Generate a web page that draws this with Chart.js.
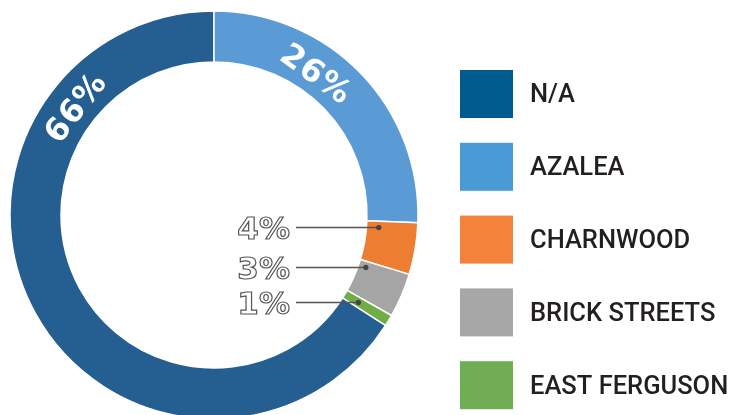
<!DOCTYPE html>
<html>
<head>
<meta charset="utf-8">
<script src="https://cdn.jsdelivr.net/npm/chart.js@4/dist/chart.umd.min.js"></script>
<style>
  body { margin: 0; background: #fff; }
  #wrap { width: 733px; height: 415px; overflow: hidden; }
</style>
</head>
<body>
<div id="wrap"><canvas id="myChart" width="733" height="415"></canvas></div>
<script>
'use strict';

// data
const categories = ['N/A', 'AZALEA', 'CHARNWOOD', 'BRICK STREETS', 'EAST FERGUSON'];
const shares = [65.9, 25.6, 4.1, 3.5, 0.9];
const shareLabels = ['66%', '26%', '4%', '3%', '1%'];

// ring colours and the (slightly different) legend swatch colours
const ringColors = ['#255E91', '#5B9BD5', '#ED7D31', '#A5A5A5', '#70AD47'];
const legendColors = ['#005B8F', '#4A9BD5', '#F5823A', '#A8A7A7', '#71AD52'];

const total = shares.reduce((a, b) => a + b, 0);

// where each label sits inside its slice: frac along the arc, rad across the ring
const labelSpots = [
  {kind: 'inside', frac: 0.78, rad: 0.42},
  {kind: 'inside', frac: 0.39, rad: 0.40},
  {kind: 'leader', frac: 0.15, rad: 0.24},
  {kind: 'leader', frac: 0.17, rad: 0.15},
  {kind: 'leader', frac: 0.52, rad: 0.31}
];

const sliceLabels = {
  id: 'sliceLabels',
  afterDatasetsDraw(chart) {
    const ctx = chart.ctx;
    const arcs = chart.getDatasetMeta(0).data;
    arcs.forEach((arc, i) => {
      const spot = labelSpots[i];
      const p = arc.getProps(['x', 'y', 'startAngle', 'endAngle', 'innerRadius', 'outerRadius'], true);
      const a = p.startAngle + spot.frac * (p.endAngle - p.startAngle);
      const r = p.innerRadius + spot.rad * (p.outerRadius - p.innerRadius);
      const px = p.x + r * Math.cos(a);
      const py = p.y + r * Math.sin(a);
      ctx.save();
      if (spot.kind === 'inside') {
        ctx.translate(px, py);
        ctx.rotate(a + Math.PI / 2);
        ctx.font = 'bold 32px "DejaVu Sans"';
        ctx.letterSpacing = '1px';
        ctx.fillStyle = '#fff';
        ctx.textAlign = 'center';
        ctx.textBaseline = 'middle';
        ctx.fillText(shareLabels[i], 0, 1);
      } else {
        ctx.strokeStyle = '#555';
        ctx.lineWidth = 1.5;
        ctx.beginPath();
        ctx.moveTo(p.x + 82, py);
        ctx.lineTo(px, py);
        ctx.stroke();
        ctx.fillStyle = '#444';
        ctx.beginPath();
        ctx.arc(px, py, 2.6, 0, Math.PI * 2);
        ctx.fill();
        ctx.font = 'bold 31px "DejaVu Sans"';
        ctx.textAlign = 'right';
        ctx.textBaseline = 'middle';
        ctx.fillStyle = '#fff';
        ctx.fillText(shareLabels[i], p.x + 76, py + 3);
        ctx.lineWidth = 1.2;
        ctx.strokeStyle = '#555';
        ctx.strokeText(shareLabels[i], p.x + 76, py + 3);
      }
      ctx.restore();
    });
  }
};

const boxLegend = {
  id: 'boxLegend',
  afterDraw(chart) {
    const ctx = chart.ctx;
    ctx.save();
    categories.forEach((name, i) => {
      const top = 70 + i * 72.8;
      ctx.fillStyle = legendColors[i];
      ctx.fillRect(460, top, 53, 48);
      ctx.fillStyle = '#231F20';
      ctx.font = '500 25.5px Roboto';
      ctx.textAlign = 'left';
      ctx.textBaseline = 'middle';
      ctx.fillText(name, 530, top + 26);
    });
    ctx.restore();
  }
};

let ctx = document.getElementById('myChart').getContext('2d');
let chart = new Chart(ctx, {
  type: 'doughnut',
  data: {
    labels: categories,
    datasets: [{
      data: shares,
      backgroundColor: ringColors,
      borderColor: '#fff',
      borderWidth: 1.5,
      radius: 204,
      clip: false
    }]
  },
  options: {
    responsive: false,
    animation: false,
    events: [],
    cutout: '75%',
    // N/A is drawn first and ends at 12 o'clock, so AZALEA starts there
    rotation: -shares[0] / total * 360,
    layout: {padding: {top: 15, right: 305, left: 0, bottom: 0}},
    plugins: {
      legend: {display: false},
      tooltip: {enabled: false}
    }
  },
  plugins: [sliceLabels, boxLegend]
});
</script>
</body>
</html>
